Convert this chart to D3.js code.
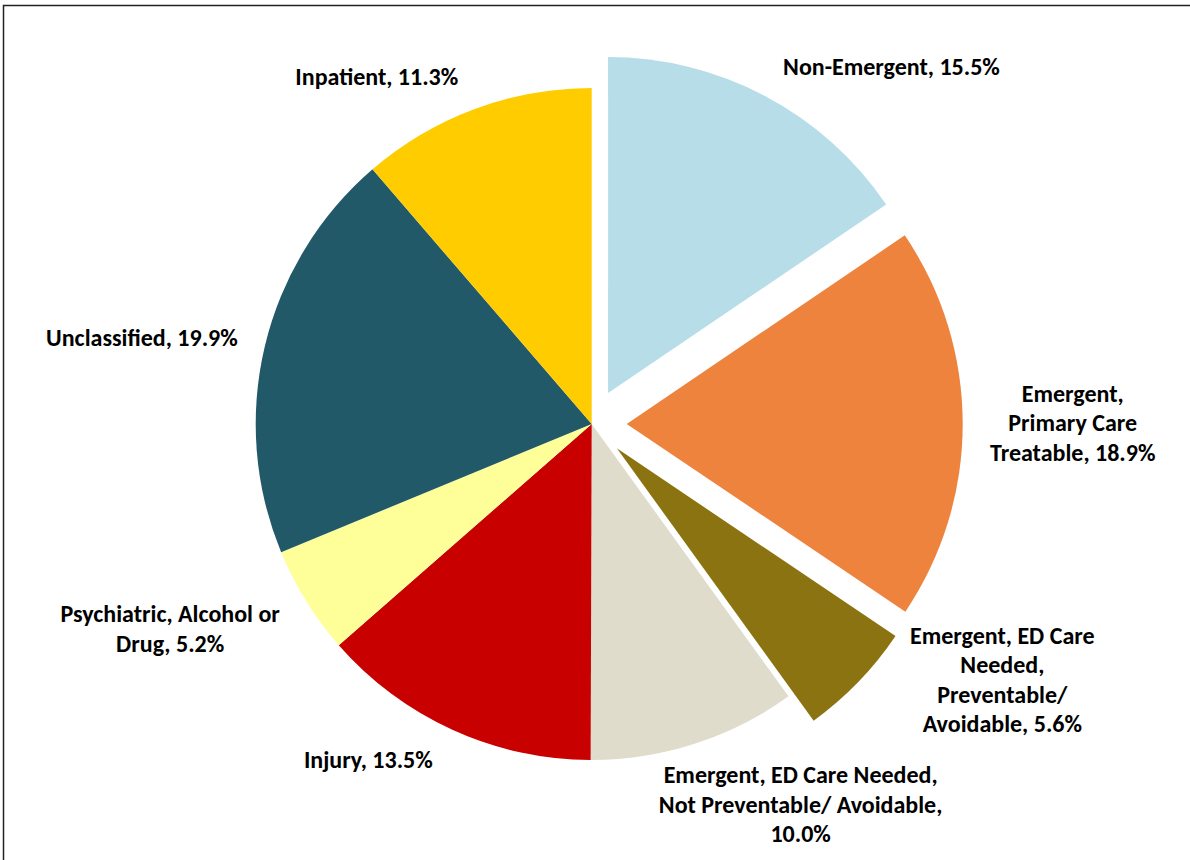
<!DOCTYPE html>
<html>
<head>
<meta charset="utf-8">
<script src="https://cdn.jsdelivr.net/npm/d3@7"></script>
<style>
  html, body { margin: 0; padding: 0; background: #fff; }
  svg { display: block; }
  .slice-label { font-family: Carlito, Calibri, Lato, sans-serif; font-weight: bold; fill: #000; }
</style>
</head>
<body>
<div id="chart"></div>
<script>
// categories, clockwise from 12 o'clock
var categories = [
  "Non-Emergent",
  "Emergent, Primary Care Treatable",
  "Emergent, ED Care Needed, Preventable/ Avoidable",
  "Emergent, ED Care Needed, Not Preventable/ Avoidable",
  "Injury",
  "Psychiatric, Alcohol or Drug",
  "Unclassified",
  "Inpatient"
];
var shares = [15.5, 18.9, 5.6, 10.0, 13.5, 5.2, 19.9, 11.3]; // percent
// label text as it wraps in the picture
var labelLines = [
  ["Non-Emergent, 15.5%"],
  ["Emergent,", "Primary Care", "Treatable, 18.9%"],
  ["Emergent, ED Care", "Needed,", "Preventable/", "Avoidable, 5.6%"],
  ["Emergent, ED Care Needed,", "Not Preventable/ Avoidable,", "10.0%"],
  ["Injury, 13.5%"],
  ["Psychiatric, Alcohol or", "Drug, 5.2%"],
  ["Unclassified, 19.9%"],
  ["Inpatient, 11.3%"]
];

// styles / layout
var colors = ["#b7dde8", "#ed833d", "#8b7311", "#e0dccb", "#c80000", "#ffff99", "#215968", "#ffcc00"];
var explode = [35, 35, 35, 0, 0, 0, 0, 0]; // px pulled out along the mid angle
var labelNudge = [ // offset of label block from the slice's outer edge point
  [126, -28], [110, 1], [144, -1], [106, 62],
  [-84, 31], [-136, 29], [-123, -7], [-98, -31]
];

var width = 1190, height = 860;
var cx = 591.7, cy = 424, radius = 336;
var fontSize = 24, lineH = 29.5;

var svg = d3.select("#chart").append("svg")
    .attr("width", width)
    .attr("height", height);

// frame of the chart area (runs off the right and bottom)
svg.append("rect")
    .attr("x", 3.5)
    .attr("y", 5.5)
    .attr("width", width + 10)
    .attr("height", height + 10)
    .attr("fill", "none")
    .attr("stroke", "#222")
    .attr("stroke-width", 1.5);

var pie = d3.pie()
    .sort(null)
    .value(function (d) { return d; });

var arcs = pie(shares);

var arc = d3.arc()
    .innerRadius(0)
    .outerRadius(radius);

var midAngle = function (d) { return (d.startAngle + d.endAngle) / 2; };

var g = svg.append("g")
    .attr("transform", "translate(" + cx + "," + cy + ")");

g.selectAll(".slice")
    .data(arcs)
  .enter().append("path")
    .attr("class", "slice")
    .attr("fill", function (d, i) { return colors[i]; })
    .attr("transform", function (d, i) {
      var a = midAngle(d);
      return "translate(" + (Math.sin(a) * explode[i]) + "," + (-Math.cos(a) * explode[i]) + ")";
    })
    .attr("d", arc);

// labels
var labels = g.selectAll(".slice-label")
    .data(arcs)
  .enter().append("text")
    .attr("class", "slice-label")
    .attr("text-anchor", "middle")
    .style("font-size", fontSize + "px")
    .each(function (d, i) {
      var a = midAngle(d);
      var rr = radius + explode[i];
      var x = Math.sin(a) * rr + labelNudge[i][0];
      var y = -Math.cos(a) * rr + labelNudge[i][1];
      var lines = labelLines[i];
      var t = d3.select(this);
      lines.forEach(function (line, k) {
        t.append("tspan")
            .attr("x", x)
            .attr("y", y + (k - (lines.length - 1) / 2) * lineH + 7)
            .text(line);
      });
    });
</script>
</body>
</html>
